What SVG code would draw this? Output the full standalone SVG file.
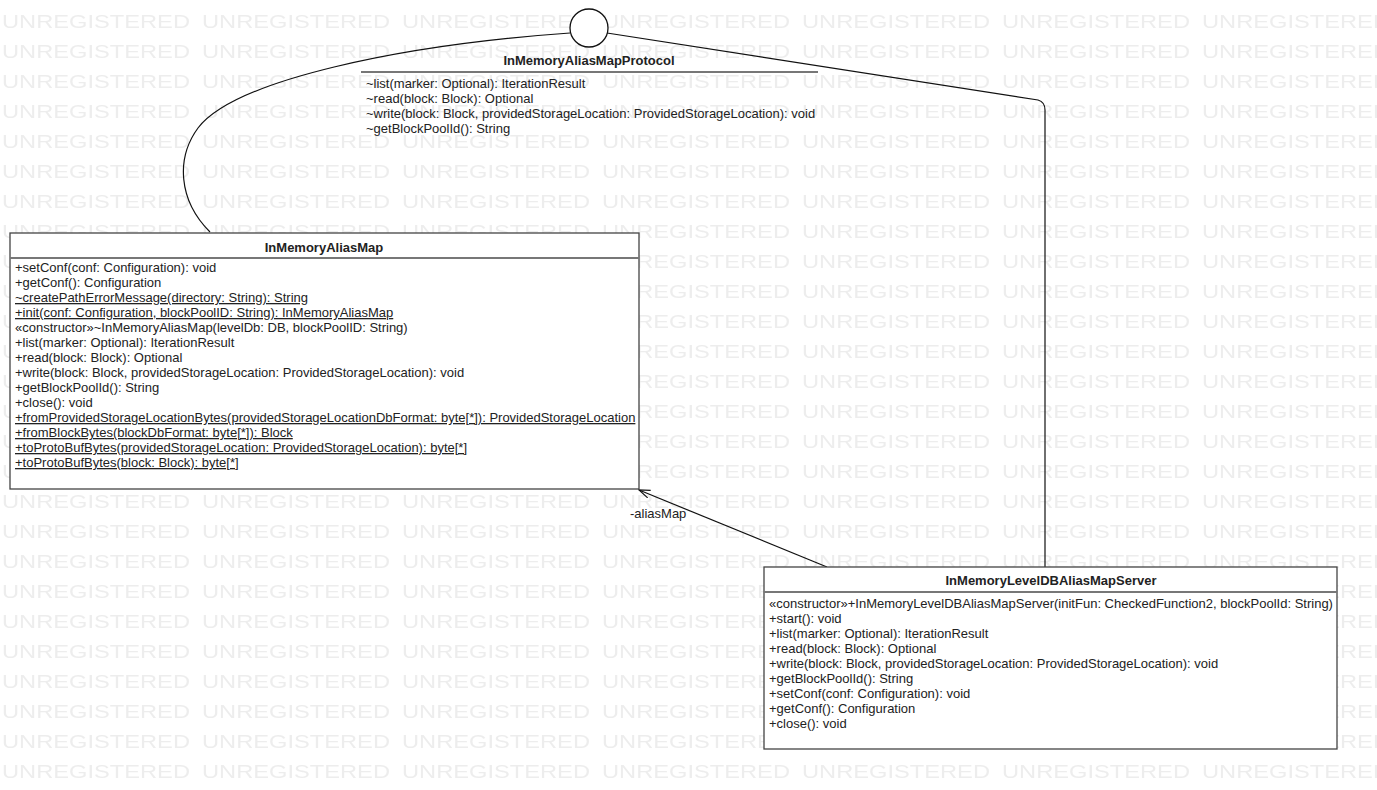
<svg xmlns="http://www.w3.org/2000/svg" width="1377" height="790" viewBox="0 0 1377 790">
  <style>
    .wm { font-family: "Liberation Sans", Arial, sans-serif; font-size: 19px; fill: #ededed; }
    .title { font-family: "Liberation Sans", Arial, sans-serif; font-size: 13px; font-weight: bold; fill: #222; text-anchor: middle; }
    .op { font-family: "Liberation Sans", Arial, sans-serif; font-size: 13px; fill: #222; }
    .u { text-decoration: underline; }
    .box { fill: #fff; stroke: #444; stroke-width: 1.3; }
    .sep { stroke: #777; stroke-width: 2; }
    .edge { fill: none; stroke: #111; stroke-width: 1.2; }
    .lbl { font-family: "Liberation Sans", Arial, sans-serif; font-size: 13px; fill: #222; }
  </style>
  <defs>
    <pattern id="wmTile" x="0" y="0" width="200" height="30" patternUnits="userSpaceOnUse">
      <text class="wm" x="2" y="28" textLength="188" lengthAdjust="spacingAndGlyphs">UNREGISTERED</text>
    </pattern>
    <marker id="openArrow" viewBox="0 0 12 12" refX="11" refY="6" markerWidth="12" markerHeight="12" markerUnits="userSpaceOnUse" orient="auto">
      <path d="M0,2 L11,6 L0,10" fill="none" stroke="#111" stroke-width="1.2"/>
    </marker>
  </defs>

  <!-- background with tool watermark -->
  <rect x="0" y="0" width="1377" height="790" fill="#fff"/>
  <rect x="0" y="0" width="1377" height="790" fill="url(#wmTile)"/>

  <!-- connectors -->
  <g id="connectors">
    <path class="edge" d="M570,33 C400,45 235,80 198,128 C176,158 178,200 210,232"/>
    <path class="edge" d="M607,33 L1038,100 Q1045,102 1045,110 L1045,567"/>
    <path class="edge" d="M827,567 L639,490" marker-end="url(#openArrow)"/>
    <text class="lbl" x="630" y="518">-aliasMap</text>
  </g>

  <!-- interface (lollipop) -->
  <g id="InMemoryAliasMapProtocol">
    <circle cx="589" cy="28" r="19" fill="#fff" stroke="#111" stroke-width="1.3"/>
    <text class="title" x="589" y="65">InMemoryAliasMapProtocol</text>
    <line class="sep" x1="361" y1="72" x2="818" y2="72"/>
    <text class="op" x="366" y="88">~list(marker: Optional): IterationResult</text>
    <text class="op" x="366" y="103">~read(block: Block): Optional</text>
    <text class="op" x="366" y="118">~write(block: Block, providedStorageLocation: ProvidedStorageLocation): void</text>
    <text class="op" x="366" y="133">~getBlockPoolId(): String</text>
  </g>

  <!-- class InMemoryAliasMap -->
  <g id="InMemoryAliasMap">
    <rect class="box" x="10" y="233" width="629" height="256"/>
    <text class="title" x="324" y="252">InMemoryAliasMap</text>
    <line class="sep" x1="10" y1="258" x2="639" y2="258"/>
    <text class="op" x="15" y="272">+setConf(conf: Configuration): void</text>
    <text class="op" x="15" y="287">+getConf(): Configuration</text>
    <text class="op u" x="15" y="302">~createPathErrorMessage(directory: String): String</text>
    <text class="op u" x="15" y="317">+init(conf: Configuration, blockPoolID: String): InMemoryAliasMap</text>
    <text class="op" x="15" y="332">«constructor»~InMemoryAliasMap(levelDb: DB, blockPoolID: String)</text>
    <text class="op" x="15" y="347">+list(marker: Optional): IterationResult</text>
    <text class="op" x="15" y="362">+read(block: Block): Optional</text>
    <text class="op" x="15" y="377">+write(block: Block, providedStorageLocation: ProvidedStorageLocation): void</text>
    <text class="op" x="15" y="392">+getBlockPoolId(): String</text>
    <text class="op" x="15" y="407">+close(): void</text>
    <text class="op u" x="15" y="422">+fromProvidedStorageLocationBytes(providedStorageLocationDbFormat: byte[*]): ProvidedStorageLocation</text>
    <text class="op u" x="15" y="437">+fromBlockBytes(blockDbFormat: byte[*]): Block</text>
    <text class="op u" x="15" y="452">+toProtoBufBytes(providedStorageLocation: ProvidedStorageLocation): byte[*]</text>
    <text class="op u" x="15" y="467">+toProtoBufBytes(block: Block): byte[*]</text>
  </g>

  <!-- class InMemoryLevelDBAliasMapServer -->
  <g id="InMemoryLevelDBAliasMapServer">
    <rect class="box" x="764" y="567" width="573" height="182"/>
    <text class="title" x="1051" y="585">InMemoryLevelDBAliasMapServer</text>
    <line class="sep" x1="764" y1="592" x2="1337" y2="592"/>
    <text class="op" x="769" y="608">«constructor»+InMemoryLevelDBAliasMapServer(initFun: CheckedFunction2, blockPoolId: String)</text>
    <text class="op" x="769" y="623">+start(): void</text>
    <text class="op" x="769" y="638">+list(marker: Optional): IterationResult</text>
    <text class="op" x="769" y="653">+read(block: Block): Optional</text>
    <text class="op" x="769" y="668">+write(block: Block, providedStorageLocation: ProvidedStorageLocation): void</text>
    <text class="op" x="769" y="683">+getBlockPoolId(): String</text>
    <text class="op" x="769" y="698">+setConf(conf: Configuration): void</text>
    <text class="op" x="769" y="713">+getConf(): Configuration</text>
    <text class="op" x="769" y="728">+close(): void</text>
  </g>
</svg>
